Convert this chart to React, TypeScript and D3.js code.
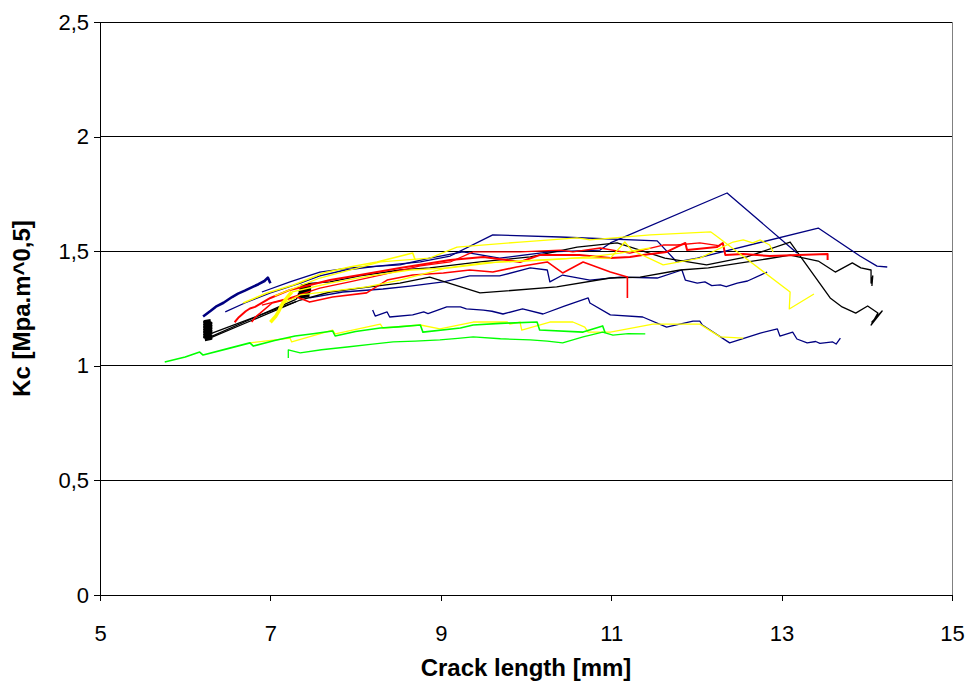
import React, { useEffect, useRef } from 'react';
import * as d3 from 'd3';

// axis ticks
const xTicks = [5, 7, 9, 11, 13, 15];
const yTicks = [0, 0.5, 1, 1.5, 2, 2.5];
const yTickLabels = ['0', '0,5', '1', '1,5', '2', '2,5'];

// navy series [crack length mm, Kc]
const navyA = [[6.21, 1.215], [6.3, 1.24], [6.36, 1.258], [6.45, 1.275], [6.55, 1.3], [6.62, 1.315], [6.7, 1.328], [6.78, 1.342], [6.86, 1.356], [6.93, 1.37], [6.97, 1.385], [7.0, 1.36]];
const navyB = [[6.47, 1.235], [6.7, 1.274], [7.0, 1.318], [7.35, 1.361], [7.58, 1.392], [7.88, 1.418], [8.29, 1.436], [8.76, 1.453], [9.11, 1.479], [9.61, 1.571], [10.4, 1.562], [11.54, 1.545], [11.77, 1.453], [12.01, 1.47], [13.43, 1.601], [13.92, 1.479], [14.12, 1.435], [14.24, 1.431]];
const navyC = [[6.9, 1.322], [7.23, 1.366], [7.58, 1.409], [7.93, 1.427], [8.52, 1.44], [8.87, 1.47], [9.26, 1.497], [9.69, 1.47], [10.28, 1.497], [10.87, 1.505], [10.99, 1.536], [12.36, 1.754], [13.18, 1.492]];
const navyD = [[7.46, 1.296], [7.85, 1.322], [8.32, 1.335], [8.64, 1.348], [9.03, 1.366], [9.34, 1.392], [9.69, 1.392], [10.05, 1.427], [10.25, 1.418], [10.28, 1.366], [10.43, 1.396], [10.75, 1.374], [11.1, 1.387], [11.54, 1.383], [11.83, 1.418], [11.87, 1.374], [12.01, 1.361], [12.1, 1.366], [12.18, 1.35], [12.28, 1.353], [12.35, 1.345], [12.48, 1.361], [12.6, 1.37], [12.83, 1.409]];
const navyE = [[8.2, 1.243], [8.23, 1.217], [8.37, 1.235], [8.4, 1.213], [8.67, 1.222], [8.8, 1.235], [8.85, 1.228], [9.07, 1.257], [9.23, 1.257], [9.3, 1.248], [9.5, 1.243], [9.6, 1.238], [9.73, 1.226], [9.96, 1.248], [10.2, 1.226], [10.45, 1.26], [10.73, 1.296], [10.75, 1.274], [10.99, 1.222], [11.37, 1.213], [11.65, 1.169], [11.96, 1.195], [12.04, 1.195], [12.07, 1.178], [12.39, 1.1], [12.75, 1.143], [12.95, 1.161], [12.98, 1.13], [13.13, 1.147], [13.18, 1.117], [13.3, 1.1], [13.4, 1.106], [13.45, 1.098], [13.6, 1.104], [13.64, 1.095], [13.69, 1.121]];

// black series
const blackBlock1 = [[6.23, 1.115], [6.3, 1.12], [6.23, 1.126], [6.3, 1.131], [6.23, 1.137], [6.3, 1.142], [6.23, 1.148], [6.3, 1.153], [6.23, 1.159], [6.3, 1.164], [6.23, 1.17], [6.3, 1.175], [6.23, 1.181], [6.3, 1.186], [6.23, 1.192], [6.3, 1.197]];
const blackBlock2 = [[7.33, 1.3], [7.44, 1.306], [7.34, 1.312], [7.45, 1.318], [7.35, 1.324], [7.46, 1.33], [7.36, 1.336], [7.46, 1.342], [7.37, 1.348], [7.46, 1.354]];
const blackA = [[6.24, 1.113], [7.35, 1.287], [7.7, 1.322], [8.05, 1.339], [8.52, 1.361], [8.87, 1.387], [9.46, 1.318], [10.36, 1.344], [10.99, 1.383], [11.34, 1.387], [11.81, 1.418], [12.14, 1.427], [12.82, 1.466], [13.1, 1.483], [13.43, 1.457], [13.63, 1.409], [13.83, 1.449], [13.93, 1.427], [14.05, 1.418], [14.05, 1.361], [14.07, 1.392], [14.06, 1.348]];
const blackB = [[6.29, 1.125], [7.3, 1.29], [7.46, 1.36], [7.7, 1.366], [8.05, 1.392], [8.52, 1.418], [8.87, 1.427], [9.46, 1.453], [10.05, 1.475], [10.6, 1.518], [11.07, 1.536], [11.63, 1.47], [12.12, 1.44], [12.59, 1.475], [13.1, 1.54], [13.57, 1.296], [13.71, 1.257], [13.87, 1.23], [14.01, 1.261], [14.13, 1.23], [14.05, 1.178], [14.18, 1.239], [14.06, 1.191], [14.15, 1.226]];
const blackC = [[6.3, 1.14], [6.8, 1.21], [7.3, 1.28]];

// red series
const redA = [[6.58, 1.19], [6.63, 1.212], [6.67, 1.225], [6.71, 1.238], [6.76, 1.25], [6.82, 1.257], [7.0, 1.296], [7.23, 1.331], [7.7, 1.374], [8.05, 1.396], [8.52, 1.427], [9.11, 1.462], [9.5, 1.475], [9.93, 1.453], [10.16, 1.483], [10.63, 1.483], [10.99, 1.47], [11.22, 1.475], [11.37, 1.483], [11.65, 1.497], [11.87, 1.536], [11.89, 1.505], [12.24, 1.518], [12.31, 1.536], [12.34, 1.483], [12.55, 1.488], [12.86, 1.479], [13.54, 1.488], [13.54, 1.462]];
const redB = [[6.78, 1.191], [6.83, 1.215], [6.88, 1.23], [7.02, 1.274], [7.31, 1.3], [7.46, 1.278], [7.73, 1.3], [8.13, 1.318], [8.37, 1.374], [8.67, 1.396], [9.03, 1.405], [9.34, 1.418], [9.61, 1.409], [9.89, 1.431], [10.25, 1.453], [10.43, 1.405], [10.67, 1.453], [10.99, 1.409], [11.19, 1.387], [11.19, 1.296]];
const redC = [[6.9, 1.265], [7.23, 1.296], [7.58, 1.339], [7.93, 1.366], [8.29, 1.396], [8.76, 1.436], [9.11, 1.453], [9.38, 1.497], [9.93, 1.497], [10.4, 1.505], [10.55, 1.497], [10.87, 1.514], [11.22, 1.492], [11.61, 1.527], [11.77, 1.527], [12.04, 1.536], [12.28, 1.523]];

// yellow series
const yellowA = [[6.68, 1.274], [6.96, 1.318], [7.27, 1.353], [7.62, 1.405], [7.93, 1.431], [8.25, 1.453], [8.67, 1.492], [8.7, 1.462]];
const yellowB = [[7.05, 1.305], [7.58, 1.383], [8.29, 1.453], [8.87, 1.47], [9.19, 1.518], [9.93, 1.54], [10.6, 1.558], [10.75, 1.549], [11.46, 1.571], [12.17, 1.584], [12.25, 1.562], [13.1, 1.322], [13.09, 1.248], [13.38, 1.313]];
const yellowCStart = [[7.0, 1.19], [7.06, 1.215], [7.1, 1.24], [7.14, 1.27], [7.2, 1.3], [7.25, 1.322]];
const yellowC = [[7.25, 1.322], [7.7, 1.361], [8.17, 1.392], [8.64, 1.418], [9.11, 1.427], [9.69, 1.453], [10.16, 1.462], [10.58, 1.47], [10.99, 1.47], [11.16, 1.54], [11.24, 1.505], [11.61, 1.44], [12.04, 1.47], [12.43, 1.54], [12.55, 1.549], [12.66, 1.536], [12.75, 1.549], [12.86, 1.527], [12.9, 1.497]];
const yellowD = [[7.11, 1.265], [7.35, 1.309], [8.13, 1.344], [8.52, 1.374], [9.07, 1.427], [9.5, 1.449], [10.28, 1.462], [10.75, 1.475], [11.1, 1.492], [11.46, 1.514]];
const yellowE = [[6.76, 1.1], [7.23, 1.121], [7.25, 1.104], [7.73, 1.156], [7.76, 1.139], [8.29, 1.182], [8.32, 1.165], [8.76, 1.178], [8.99, 1.161], [9.38, 1.191], [9.78, 1.191], [9.81, 1.182], [9.93, 1.191], [9.95, 1.156], [10.28, 1.191], [10.55, 1.191], [10.69, 1.169], [10.73, 1.147], [10.99, 1.147], [11.49, 1.182], [12.04, 1.182], [12.28, 1.126], [12.55, 1.121]];

// green series
const greenA = [[5.76, 1.017], [6.0, 1.038], [6.17, 1.06], [6.21, 1.047], [6.5, 1.075], [6.76, 1.1], [6.8, 1.086], [7.05, 1.11], [7.29, 1.13], [7.5, 1.14], [7.73, 1.152], [7.76, 1.13], [8.0, 1.15], [8.29, 1.165], [8.5, 1.17], [8.76, 1.178], [8.79, 1.147], [9.23, 1.165], [9.38, 1.178], [9.7, 1.185], [10.13, 1.191], [10.16, 1.156], [10.67, 1.147], [10.9, 1.174], [10.93, 1.143]];
const greenB = [[7.21, 1.034], [7.21, 1.069], [7.35, 1.056], [7.6, 1.07], [7.9, 1.082], [8.2, 1.095], [8.44, 1.104], [8.7, 1.108], [8.99, 1.113], [9.2, 1.12], [9.38, 1.126], [9.7, 1.118], [10.05, 1.113], [10.25, 1.108], [10.43, 1.1], [10.67, 1.126], [10.9, 1.147], [11.02, 1.134], [11.2, 1.14], [11.4, 1.139]];

const series = [
  { color: '#000080', pts: navyA, w: 2.6 },
  { color: '#000080', pts: navyB, w: 1.3 },
  { color: '#000080', pts: navyC, w: 1.3 },
  { color: '#000080', pts: navyD, w: 1.3 },
  { color: '#000080', pts: navyE, w: 1.3 },
  { color: '#000000', pts: blackBlock1, w: 3.6 },
  { color: '#000000', pts: blackBlock2, w: 3.6 },
  { color: '#000000', pts: blackA, w: 1.3 },
  { color: '#000000', pts: blackB, w: 1.3 },
  { color: '#000000', pts: blackC, w: 1.3 },
  { color: '#FF0000', pts: redA, w: 2 },
  { color: '#FF0000', pts: redB, w: 1.6 },
  { color: '#FF0000', pts: redC, w: 1.3 },
  { color: '#FFFF00', pts: yellowA, w: 1.6 },
  { color: '#FFFF00', pts: yellowB, w: 1.3 },
  { color: '#FFFF00', pts: yellowCStart, w: 3.5 },
  { color: '#FFFF00', pts: yellowC, w: 1.3 },
  { color: '#FFFF00', pts: yellowD, w: 1.3 },
  { color: '#FFFF00', pts: yellowE, w: 1.3 },
  { color: '#00FF00', pts: greenA, w: 1.6 },
  { color: '#00FF00', pts: greenB, w: 1.3 },
];

const W = 967;
const H = 682;
const FONT = '"Liberation Sans", Arial, sans-serif';

const App = () => {
  const svgRef = useRef(null);

  useEffect(() => {
    const svg = d3.select(svgRef.current);
    svg.selectAll('*').remove();

    const x = d3.scaleLinear().domain([5, 15]).range([100, 952]);
    const y = d3.scaleLinear().domain([0, 2.5]).range([595, 22]);

    // gridlines
    svg.append('g')
      .selectAll('line')
      .data(yTicks.filter(d => d > 0))
      .enter()
      .append('line')
      .attr('x1', x(5))
      .attr('x2', x(15))
      .attr('y1', d => y(d))
      .attr('y2', d => y(d))
      .attr('stroke', '#000')
      .attr('stroke-width', 1)
      .attr('shape-rendering', 'crispEdges');

    // plot area right border
    svg.append('line')
      .attr('x1', x(15)).attr('x2', x(15))
      .attr('y1', y(2.5)).attr('y2', y(0))
      .attr('stroke', '#808080')
      .attr('stroke-width', 1)
      .attr('shape-rendering', 'crispEdges');

    // data lines
    const line = d3.line()
      .x(d => x(d[0]))
      .y(d => y(d[1]));

    svg.append('g')
      .selectAll('path')
      .data(series)
      .enter()
      .append('path')
      .attr('d', d => line(d.pts))
      .attr('fill', 'none')
      .attr('stroke', d => d.color)
      .attr('stroke-width', d => d.w)
      .attr('stroke-linejoin', 'round');

    // axes
    const xAxis = d3.axisBottom(x).tickValues(xTicks).tickSize(6).tickSizeOuter(0).tickFormat(d => String(d));
    const yAxis = d3.axisLeft(y).tickValues(yTicks).tickSize(6).tickSizeOuter(0)
      .tickFormat((d, i) => yTickLabels[i]);

    const gx = svg.append('g')
      .attr('transform', `translate(0,${y(0)})`)
      .call(xAxis);
    gx.select('.domain').attr('stroke', '#000').attr('shape-rendering', 'crispEdges');
    gx.selectAll('.tick line').attr('stroke', '#000').attr('shape-rendering', 'crispEdges');
    gx.selectAll('.tick text')
      .attr('font-family', FONT)
      .attr('font-size', 22)
      .attr('fill', '#000')
      .attr('y', 46)
      .attr('dy', 0);

    const gy = svg.append('g')
      .attr('transform', `translate(${x(5)},0)`)
      .call(yAxis);
    gy.select('.domain').attr('stroke', '#000').attr('shape-rendering', 'crispEdges');
    gy.selectAll('.tick line').attr('stroke', '#000').attr('shape-rendering', 'crispEdges');
    gy.selectAll('.tick text')
      .attr('font-family', FONT)
      .attr('font-size', 22)
      .attr('fill', '#000')
      .attr('x', -11);

    // axis titles
    svg.append('text')
      .attr('x', (x(5) + x(15)) / 2)
      .attr('y', 676)
      .attr('text-anchor', 'middle')
      .attr('font-family', FONT)
      .attr('font-size', 24)
      .attr('font-weight', 'bold')
      .text('Crack length [mm]');

    svg.append('text')
      .attr('transform', `translate(30,${(y(0) + y(2.5)) / 2}) rotate(-90)`)
      .attr('text-anchor', 'middle')
      .attr('font-family', FONT)
      .attr('font-size', 24)
      .attr('font-weight', 'bold')
      .text('Kc [Mpa.m^0,5]');
  }, []);

  return (
    <svg
      ref={svgRef}
      width={W}
      height={H}
      style={{ position: 'absolute', left: 0, top: 0, background: '#fff' }}
    />
  );
};

export default App;
